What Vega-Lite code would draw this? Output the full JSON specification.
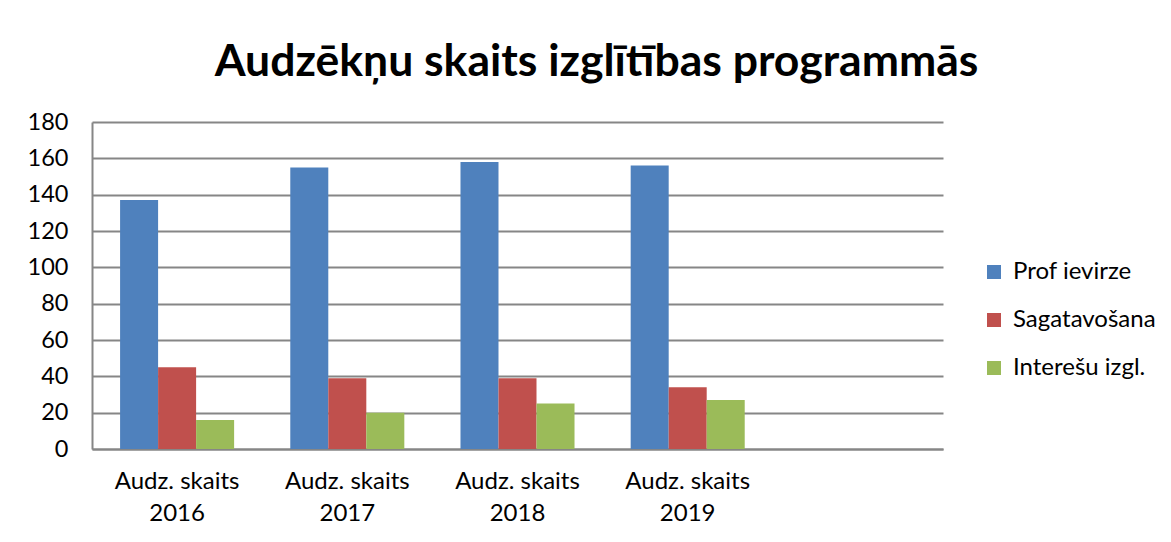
{
  "$schema": "https://vega.github.io/schema/vega-lite/v6.json",
  "width": 851,
  "height": 327,
  "autosize": "none",
  "padding": {"left": 92, "top": 122, "right": 228, "bottom": 93},
  "background": "white",
  "title": {
    "text": "Audzēkņu skaits izglītības programmās",
    "font": "Lato",
    "fontSize": 44.5,
    "fontWeight": "bold",
    "color": "#000000",
    "anchor": "middle",
    "dx": 79,
    "offset": 25
  },
  "data": {
    "values": [
      {"cat": "Audz. skaits 2016", "series": "Prof ievirze", "value": 137},
      {"cat": "Audz. skaits 2016", "series": "Sagatavošana", "value": 45},
      {"cat": "Audz. skaits 2016", "series": "Interešu izgl.", "value": 16},
      {"cat": "Audz. skaits 2017", "series": "Prof ievirze", "value": 155},
      {"cat": "Audz. skaits 2017", "series": "Sagatavošana", "value": 39},
      {"cat": "Audz. skaits 2017", "series": "Interešu izgl.", "value": 20},
      {"cat": "Audz. skaits 2018", "series": "Prof ievirze", "value": 158},
      {"cat": "Audz. skaits 2018", "series": "Sagatavošana", "value": 39},
      {"cat": "Audz. skaits 2018", "series": "Interešu izgl.", "value": 25},
      {"cat": "Audz. skaits 2019", "series": "Prof ievirze", "value": 156},
      {"cat": "Audz. skaits 2019", "series": "Sagatavošana", "value": 34},
      {"cat": "Audz. skaits 2019", "series": "Interešu izgl.", "value": 27}
    ]
  },
  "mark": {"type": "bar"},
  "encoding": {
    "x": {
      "field": "cat",
      "type": "nominal",
      "scale": {
        "domain": ["Audz. skaits 2016", "Audz. skaits 2017", "Audz. skaits 2018", "Audz. skaits 2019", "_"],
        "paddingInner": 0.33,
        "paddingOuter": 0.165
      },
      "axis": {
        "title": null,
        "labelAngle": 0,
        "labelExpr": "datum.value == '_' ? '' : [slice(datum.value, 0, 12), slice(datum.value, 13)]",
        "labelFont": "Lato",
        "labelFontSize": 24,
        "labelColor": "#000000",
        "labelLineHeight": 32,
        "labelPadding": 20,
        "ticks": false,
        "domainColor": "#868686",
        "domainWidth": 2
      }
    },
    "xOffset": {
      "field": "series",
      "type": "nominal",
      "sort": ["Prof ievirze", "Sagatavošana", "Interešu izgl."],
      "scale": {"paddingInner": 0, "paddingOuter": 0}
    },
    "y": {
      "field": "value",
      "type": "quantitative",
      "scale": {"domain": [0, 180], "nice": false},
      "axis": {
        "title": null,
        "values": [0, 20, 40, 60, 80, 100, 120, 140, 160, 180],
        "labelFont": "Lato",
        "labelFontSize": 23.5,
        "labelColor": "#000000",
        "labelPadding": 24,
        "ticks": false,
        "grid": true,
        "gridColor": "#868686",
        "gridWidth": 2,
        "domainColor": "#868686",
        "domainWidth": 2
      }
    },
    "color": {
      "field": "series",
      "type": "nominal",
      "sort": ["Prof ievirze", "Sagatavošana", "Interešu izgl."],
      "scale": {
        "domain": ["Prof ievirze", "Sagatavošana", "Interešu izgl."],
        "range": ["#4F81BD", "#C0504D", "#9BBB59"]
      },
      "legend": {
        "title": null,
        "orient": "none",
        "legendX": 890,
        "legendY": 138,
        "symbolType": "square",
        "symbolSize": 196,
        "symbolStrokeWidth": 0,
        "labelFont": "Lato",
        "labelFontSize": 24,
        "labelColor": "#000000",
        "labelOffset": 7,
        "rowPadding": 24
      }
    }
  },
  "config": {
    "view": {"stroke": null}
  }
}
